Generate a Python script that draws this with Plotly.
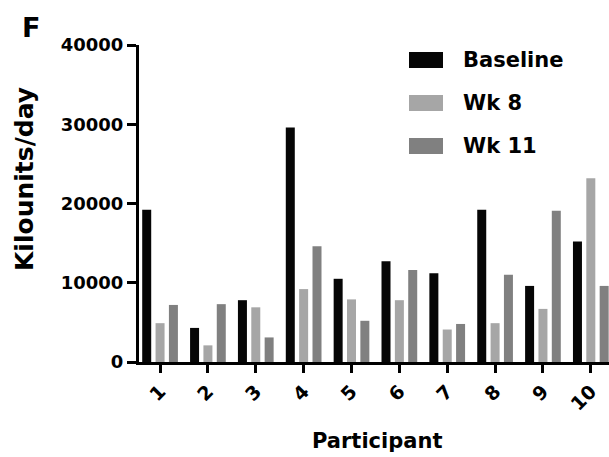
import plotly.graph_objects as go

participants = [1, 2, 3, 4, 5, 6, 7, 8, 9, 10]
tick_labels = ["1", "2", "3", "4", "5", "6", "7", "8", "9", "10"]
baseline = [19200, 4300, 7800, 29600, 10500, 12700, 11200, 19200, 9600, 15200]
wk8 = [4900, 2100, 6900, 9200, 7900, 7800, 4100, 4900, 6700, 23200]
wk11 = [7200, 7300, 3100, 14600, 5200, 11600, 4800, 11000, 19100, 9600]
series_names = ["Baseline", "Wk 8", "Wk 11"]
series_colors = ["#060606", "#a6a6a6", "#808080"]

W, H = 609, 457
ML, MR, MT, MB = 139, 0, 45, 95
PW, PH = W - ML - MR, H - MT - MB

def px_x(p):
    return (p - ML) / PW

def px_y(p):
    return (H - MB - p) / PH

FONT = "DejaVu Sans"

fig = go.Figure()
for name, vals, col in zip(series_names, [baseline, wk8, wk11], series_colors):
    fig.add_trace(go.Bar(x=participants, y=vals, name=name,
                         marker=dict(color=col, line=dict(width=0)),
                         showlegend=False))

fig.update_layout(
    width=W, height=H,
    margin=dict(l=ML, r=MR, t=MT, b=MB, pad=0),
    paper_bgcolor="white", plot_bgcolor="white",
    barmode="group", bargap=0.163, bargroupgap=0.326,
    font=dict(family=FONT, color="black"),
)
fig.update_xaxes(
    range=[0.56, 10.38], tickvals=participants, ticktext=tick_labels,
    tickangle=-45, ticks="outside", ticklen=8, tickwidth=3, tickcolor="black",
    showline=True, linewidth=3, linecolor="black", showgrid=False, zeroline=False,
    automargin=False,
    tickfont=dict(family=FONT, size=19, weight="bold", color="black"),
)
fig.update_yaxes(
    range=[0, 40000], tickvals=[0, 10000, 20000, 30000, 40000],
    tickformat="d", ticks="outside", ticklen=9, tickwidth=3, tickcolor="black",
    showline=True, linewidth=3, linecolor="black", showgrid=False, zeroline=False,
    automargin=False,
    tickfont=dict(family=FONT, size=18, weight="bold", color="black"),
)

# axis titles and panel letter
fig.add_annotation(text="Participant", xref="paper", yref="paper",
                   x=px_x(377), y=px_y(441), xanchor="center", yanchor="middle",
                   showarrow=False, font=dict(family=FONT, size=21, weight="bold"))
fig.add_annotation(text="Kilounits/day", xref="paper", yref="paper",
                   x=px_x(24), y=px_y(179), xanchor="center", yanchor="middle",
                   textangle=-90, showarrow=False,
                   font=dict(family=FONT, size=25, weight="bold"))
fig.add_annotation(text="F", xref="paper", yref="paper",
                   x=px_x(20), y=px_y(10), xanchor="left", yanchor="top",
                   showarrow=False, font=dict(family=FONT, size=27, weight="bold"))

# custom legend
legend_rows = [60, 103, 146]
for name, col, cy in zip(series_names, series_colors, legend_rows):
    fig.add_shape(type="rect", xref="paper", yref="paper",
                  x0=px_x(409), x1=px_x(443), y0=px_y(cy - 8), y1=px_y(cy + 8),
                  fillcolor=col, line=dict(width=0))
    fig.add_annotation(text=name, xref="paper", yref="paper",
                       x=px_x(461), y=px_y(cy), xanchor="left", yanchor="middle",
                       showarrow=False, font=dict(family=FONT, size=21, weight="bold"))

fig.write_html("out.html", config={"displayModeBar": False},
               post_script="document.body.style.margin='0';document.body.style.overflow='hidden';")
